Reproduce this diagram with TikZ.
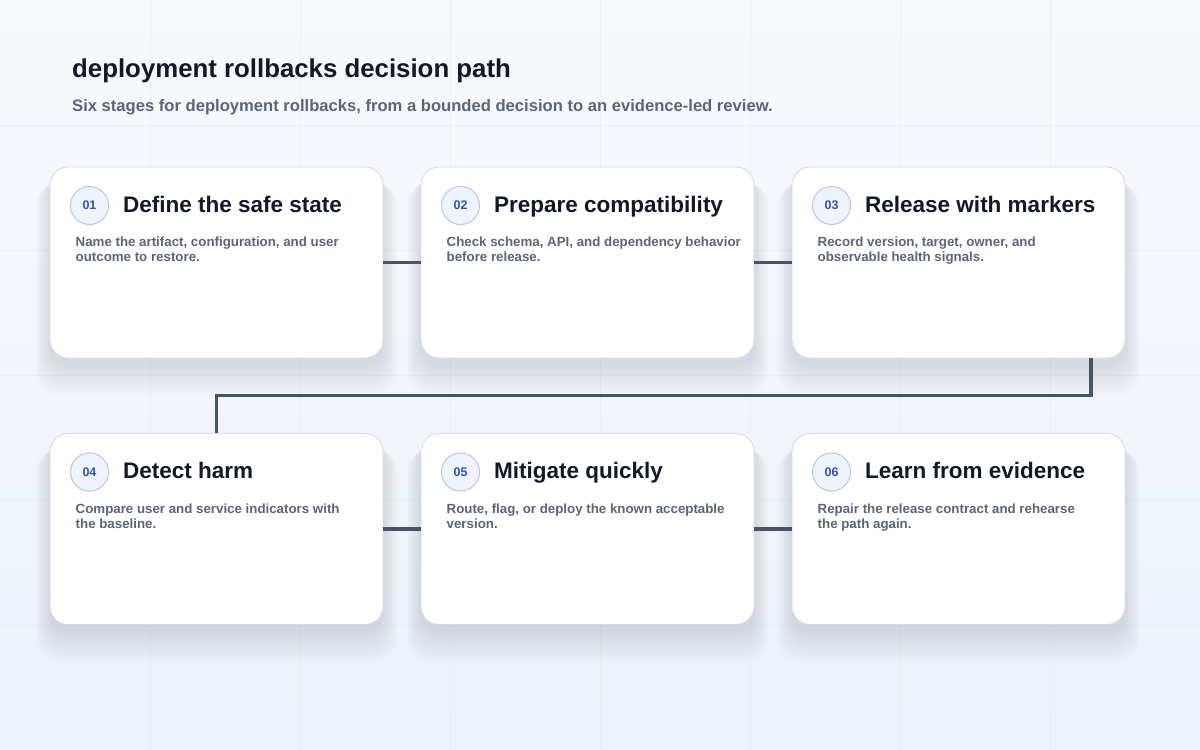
\documentclass[tikz,border=0pt]{standalone}
\usepackage{fontspec}
\setmainfont{Liberation Sans}
\usepackage{tikz}
\usetikzlibrary{positioning, calc, backgrounds}

\definecolor{bgtop}{HTML}{F7F9FC}
\definecolor{bgbot}{HTML}{EDF2FB}
\definecolor{gridcol}{HTML}{E6EBF2}
\definecolor{cardline}{HTML}{D6DCE6}
\definecolor{shadowcol}{HTML}{7A89A8}
\definecolor{ink}{HTML}{111827}
\definecolor{muted}{HTML}{5B6577}
\definecolor{badgefill}{HTML}{EEF3FC}
\definecolor{badgeline}{HTML}{B8C7E6}
\definecolor{badgetext}{HTML}{3155A6}
\definecolor{linkcol}{HTML}{475569}

\begin{document}
\begin{tikzpicture}[x=1pt, y=-1pt,
    card/.style={draw=cardline, line width=0.9pt, fill=white, rounded corners=18pt,
        minimum width=333pt, minimum height=191pt, inner sep=0pt},
    badge/.style={circle, draw=badgeline, line width=1pt, fill=badgefill,
        minimum size=38pt, inner sep=0pt, text=badgetext,
        font=\fontsize{12.5}{14}\selectfont\bfseries},
    stagetitle/.style={anchor=base west, inner sep=0pt, text=ink,
        font=\fontsize{22.5}{26}\selectfont\bfseries},
    stagetext/.style={anchor=north west, inner sep=0pt, align=left, text=muted,
        font=\fontsize{13.3}{15}\selectfont\bfseries},
    link/.style={draw=linkcol, line width=3.5pt}]
    \useasboundingbox (0,0) rectangle (1200,750);

    % heading
    \node[anchor=base west, inner sep=0pt, text=ink, font=\fontsize{25.8}{30}\selectfont\bfseries] (title) at (72,77) {deployment rollbacks decision path};
    \node[anchor=base west, inner sep=0pt, text=muted, font=\fontsize{16.6}{19}\selectfont\bfseries] (subtitle) at (72,111) {Six stages for deployment rollbacks, from a bounded decision to an evidence-led review.};

    % stage cards
    \node[card] (c1) at (216.5, 262.5) {};
    \node[card] (c2) at (587.5, 262.5) {};
    \node[card] (c3) at (958.5, 262.5) {};
    \node[card] (c4) at (216.5, 529) {};
    \node[card] (c5) at (587.5, 529) {};
    \node[card] (c6) at (958.5, 529) {};

    \node[badge] (b1) at (89.5, 205.5) {01};
    \node[badge] (b2) at (460.5, 205.5) {02};
    \node[badge] (b3) at (831.5, 205.5) {03};
    \node[badge] (b4) at (89.5, 472) {04};
    \node[badge] (b5) at (460.5, 472) {05};
    \node[badge] (b6) at (831.5, 472) {06};

    \node[stagetitle] (t1) at (123, 212) {Define the safe state};
    \node[stagetitle] (t2) at (494, 212) {Prepare compatibility};
    \node[stagetitle] (t3) at (865, 212) {Release with markers};
    \node[stagetitle] (t4) at (123, 478.5) {Detect harm};
    \node[stagetitle] (t5) at (494, 478.5) {Mitigate quickly};
    \node[stagetitle] (t6) at (865, 478.5) {Learn from evidence};

    \node[stagetext] (d1) at (75.5, 237) {Name the artifact, configuration, and user\\outcome to restore.};
    \node[stagetext] (d2) at (446.5, 237) {Check schema, API, and dependency behavior\\before release.};
    \node[stagetext] (d3) at (817.5, 237) {Record version, target, owner, and\\observable health signals.};
    \node[stagetext] (d4) at (75.5, 503.5) {Compare user and service indicators with\\the baseline.};
    \node[stagetext] (d5) at (446.5, 503.5) {Route, flag, or deploy the known acceptable\\version.};
    \node[stagetext] (d6) at (817.5, 503.5) {Repair the release contract and rehearse\\the path again.};

    % connectors
    \draw[link] (c1.east) -- (c2.west);
    \draw[link] (c2.east) -- (c3.west);
    \draw[link] ([xshift=132.5pt]c3.south) -- ++(0,37) -| (c4.north);
    \draw[link] (c4.east) -- (c5.west);
    \draw[link] (c5.east) -- (c6.west);

    % backdrop, grid and soft shadows
    \begin{pgfonlayer}{background}
        \shade[top color=bgtop, bottom color=bgbot] (0,0) rectangle (1200,750);
        \foreach \x in {150,300,...,1050} \draw[gridcol, opacity=0.6, line width=0.8pt] (\x,0) -- (\x,750);
        \foreach \y in {125,250,...,625} \draw[gridcol, opacity=0.6, line width=0.8pt] (0,\y) -- (1200,\y);
        \foreach \c in {c1,c2,c3,c4,c5,c6}
            \foreach \k in {1,...,14}
                \fill[shadowcol, opacity=0.016, rounded corners=22pt]
                    ($(\c.north west)+(-\k,6+0.8*\k)$) rectangle ($(\c.south east)+(\k,6+2.2*\k)$);
    \end{pgfonlayer}
\end{tikzpicture}
\end{document}
